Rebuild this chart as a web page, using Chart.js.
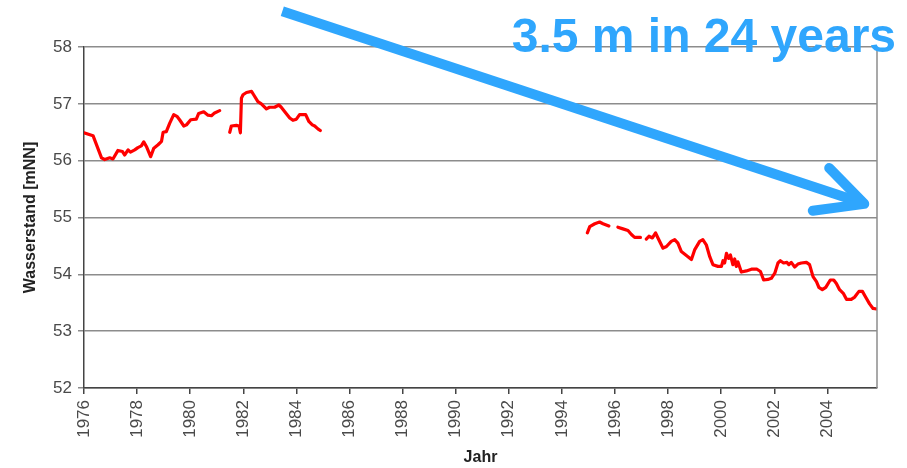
<!DOCTYPE html>
<html>
<head>
<meta charset="utf-8">
<script src="https://cdn.jsdelivr.net/npm/chart.js@4.4.1/dist/chart.umd.min.js"></script>
<style>
  body { margin: 0; background: #fff; }
</style>
</head>
<body>
<canvas id="water-level" width="907" height="468"></canvas>
<script>
// Wasserstand (mNN), null = gap in the record
const years = [
    1976.00, 1976.34, 1976.66, 1976.78, 1976.97, 1977.09, 1977.28, 1977.45, 1977.53, 1977.66,
    1977.75, 1977.91, 1978.03, 1978.16, 1978.25, 1978.35, 1978.51, 1978.63, 1978.79, 1978.92,
    1978.98, 1979.10, 1979.23, 1979.38, 1979.50, 1979.60, 1979.76, 1979.86, 1980.02, 1980.23,
    1980.32, 1980.51, 1980.67, 1980.80, 1980.92, 1981.11,
    1981.30,
    1981.49, 1981.55, 1981.74, 1981.84, 1981.89, 1981.93, 1981.99, 1982.12, 1982.31, 1982.39,
    1982.55, 1982.68, 1982.87, 1982.99, 1983.18, 1983.34, 1983.43, 1983.60, 1983.75, 1983.87,
    1984.00, 1984.12, 1984.35, 1984.47, 1984.60, 1984.69, 1984.81, 1984.90,
    1990.00,
    1994.96, 1995.05, 1995.24, 1995.42, 1995.55, 1995.77,
    1995.94,
    1996.11, 1996.30, 1996.49, 1996.62, 1996.74, 1996.96,
    1997.07,
    1997.18, 1997.28, 1997.41, 1997.53, 1997.62, 1997.81, 1997.94, 1998.12, 1998.25, 1998.37,
    1998.50, 1998.75, 1998.88, 1999.00, 1999.19, 1999.31, 1999.44, 1999.57, 1999.69, 1999.88,
    2000.01, 2000.07, 2000.13, 2000.20, 2000.28, 2000.35, 2000.44, 2000.51, 2000.57, 2000.63,
    2000.76, 2000.95, 2001.14, 2001.35, 2001.48, 2001.60, 2001.76, 2001.89, 2002.02, 2002.14,
    2002.23, 2002.35, 2002.48, 2002.55, 2002.64, 2002.77, 2002.89, 2003.02, 2003.21, 2003.33,
    2003.46, 2003.59, 2003.68, 2003.81, 2003.94, 2004.11, 2004.24, 2004.34, 2004.46, 2004.61,
    2004.72, 2004.90, 2005.03, 2005.19, 2005.32, 2005.44, 2005.59, 2005.72, 2005.85
];
const levels = [
    56.49, 56.44, 56.05, 56.02, 56.05, 56.03, 56.18, 56.16, 56.10, 56.19,
    56.15, 56.19, 56.23, 56.26, 56.33, 56.25, 56.07, 56.22, 56.28, 56.34,
    56.50, 56.51, 56.66, 56.81, 56.78, 56.72, 56.61, 56.63, 56.72, 56.73,
    56.83, 56.86, 56.80, 56.79, 56.84, 56.88,
    null,
    56.50, 56.61, 56.62, 56.61, 56.49, 57.10, 57.16, 57.20, 57.22, 57.16,
    57.04, 57.00, 56.91, 56.94, 56.94, 56.98, 56.94, 56.84, 56.75, 56.71,
    56.73, 56.81, 56.81, 56.69, 56.63, 56.61, 56.56, 56.53,
    null,
    54.73, 54.84, 54.89, 54.92, 54.89, 54.85,
    null,
    54.83, 54.80, 54.77, 54.70, 54.65, 54.65,
    null,
    54.62, 54.67, 54.64, 54.73, 54.64, 54.46, 54.49, 54.58, 54.61, 54.55,
    54.40, 54.31, 54.26, 54.43, 54.58, 54.61, 54.52, 54.31, 54.17, 54.14,
    54.14, 54.24, 54.20, 54.37, 54.28, 54.34, 54.17, 54.27, 54.14, 54.22,
    54.04, 54.06, 54.09, 54.09, 54.05, 53.90, 53.91, 53.93, 54.02, 54.20,
    54.24, 54.20, 54.21, 54.17, 54.21, 54.13, 54.18, 54.20, 54.21, 54.17,
    53.96, 53.87, 53.77, 53.73, 53.77, 53.90, 53.90, 53.84, 53.73, 53.66,
    53.56, 53.56, 53.60, 53.70, 53.70, 53.60, 53.48, 53.40, 53.39
];
const tickYears = [1976, 1978, 1980, 1982, 1984, 1986, 1988, 1990, 1992, 1994, 1996, 1998, 2000, 2002, 2004];

// trend arrow (year, mNN): shaft start, tip, two barbs
const arrowStart = [1983.47, 58.63];
const arrowTip = [2005.39, 55.24];
const arrowBarbs = [[2004.07, 55.87], [2003.45, 55.12]];
const trendLabel = '3.5 m in 24 years';

const blue = '#2fa6fd';

const trendArrow = {
    id: 'trendArrow',
    afterDraw(chart) {
        const { ctx, chartArea, scales: { x, y } } = chart;
        const px = (p) => [x.getPixelForValue(p[0]), y.getPixelForValue(p[1])];
        ctx.save();
        // right frame line
        ctx.strokeStyle = '#8c8c8c';
        ctx.lineWidth = 1.5;
        ctx.beginPath();
        ctx.moveTo(chartArea.right, chartArea.top);
        ctx.lineTo(chartArea.right, chartArea.bottom);
        ctx.stroke();

        const s = px(arrowStart);
        const t = px(arrowTip);
        ctx.strokeStyle = blue;
        ctx.lineWidth = 10;
        ctx.lineCap = 'butt';
        ctx.beginPath();
        ctx.moveTo(s[0], s[1]);
        ctx.lineTo(t[0] - 4, t[1] - 1.5);
        ctx.stroke();
        ctx.lineCap = 'round';
        ctx.lineJoin = 'round';
        ctx.beginPath();
        const b1 = px(arrowBarbs[0]);
        const b2 = px(arrowBarbs[1]);
        ctx.moveTo(b1[0], b1[1]);
        ctx.lineTo(t[0], t[1]);
        ctx.lineTo(b2[0], b2[1]);
        ctx.stroke();

        ctx.fillStyle = blue;
        ctx.font = 'bold 48px "Liberation Sans", Arial, sans-serif';
        ctx.textAlign = 'right';
        ctx.textBaseline = 'alphabetic';
        ctx.fillText(trendLabel, chartArea.right + 19, chartArea.top + 5);
        ctx.restore();
    }
};

const points = years.map((year, i) => ({ x: year, y: levels[i] }));

new Chart(document.getElementById('water-level'), {
    type: 'line',
    data: {
        datasets: [{
            data: points,
            borderColor: '#ff0000',
            borderWidth: 3.2,
            borderJoinStyle: 'round',
            borderCapStyle: 'round',
            pointRadius: 0,
            tension: 0,
            spanGaps: false,
        }]
    },
    options: {
        responsive: false,
        animation: false,
        layout: { padding: { top: 47, right: 30, bottom: 0, left: 0 } },
        plugins: {
            legend: { display: false },
            tooltip: { enabled: false },
        },
        scales: {
            x: {
                type: 'linear',
                min: 1976,
                max: 2005.87,
                afterBuildTicks: (scale) => {
                    scale.ticks = tickYears.map((v) => ({ value: v }));
                },
                afterFit: (scale) => { scale.height = 80; },
                ticks: {
                    autoSkip: false,
                    minRotation: 90,
                    maxRotation: 90,
                    padding: 6,
                    color: '#4a4a4a',
                    font: { family: '"Liberation Sans", Arial', size: 17 },
                    callback: (v) => String(v),
                },
                grid: { drawOnChartArea: false, tickLength: 6, color: '#444', lineWidth: 1.5 },
                border: { color: '#444', width: 1.5 },
                title: {
                    display: true,
                    text: 'Jahr',
                    color: '#222',
                    font: { family: '"Liberation Sans", Arial', size: 16, weight: 'bold' },
                    padding: { top: 0, bottom: 1 },
                },
            },
            y: {
                min: 52,
                max: 58,
                afterFit: (scale) => { scale.width = 84; },
                ticks: {
                    stepSize: 1,
                    padding: 6,
                    color: '#4a4a4a',
                    font: { family: '"Liberation Sans", Arial', size: 17 },
                },
                grid: { color: '#8c8c8c', lineWidth: 1.5, tickLength: 6 },
                border: { color: '#444', width: 1.5 },
                title: {
                    display: true,
                    text: 'Wasserstand [mNN]',
                    color: '#222',
                    font: { family: '"Liberation Sans", Arial', size: 16, weight: 'bold' },
                    padding: { top: 21, bottom: 0 },
                },
            },
        },
    },
    plugins: [trendArrow],
});
</script>
</body>
</html>
